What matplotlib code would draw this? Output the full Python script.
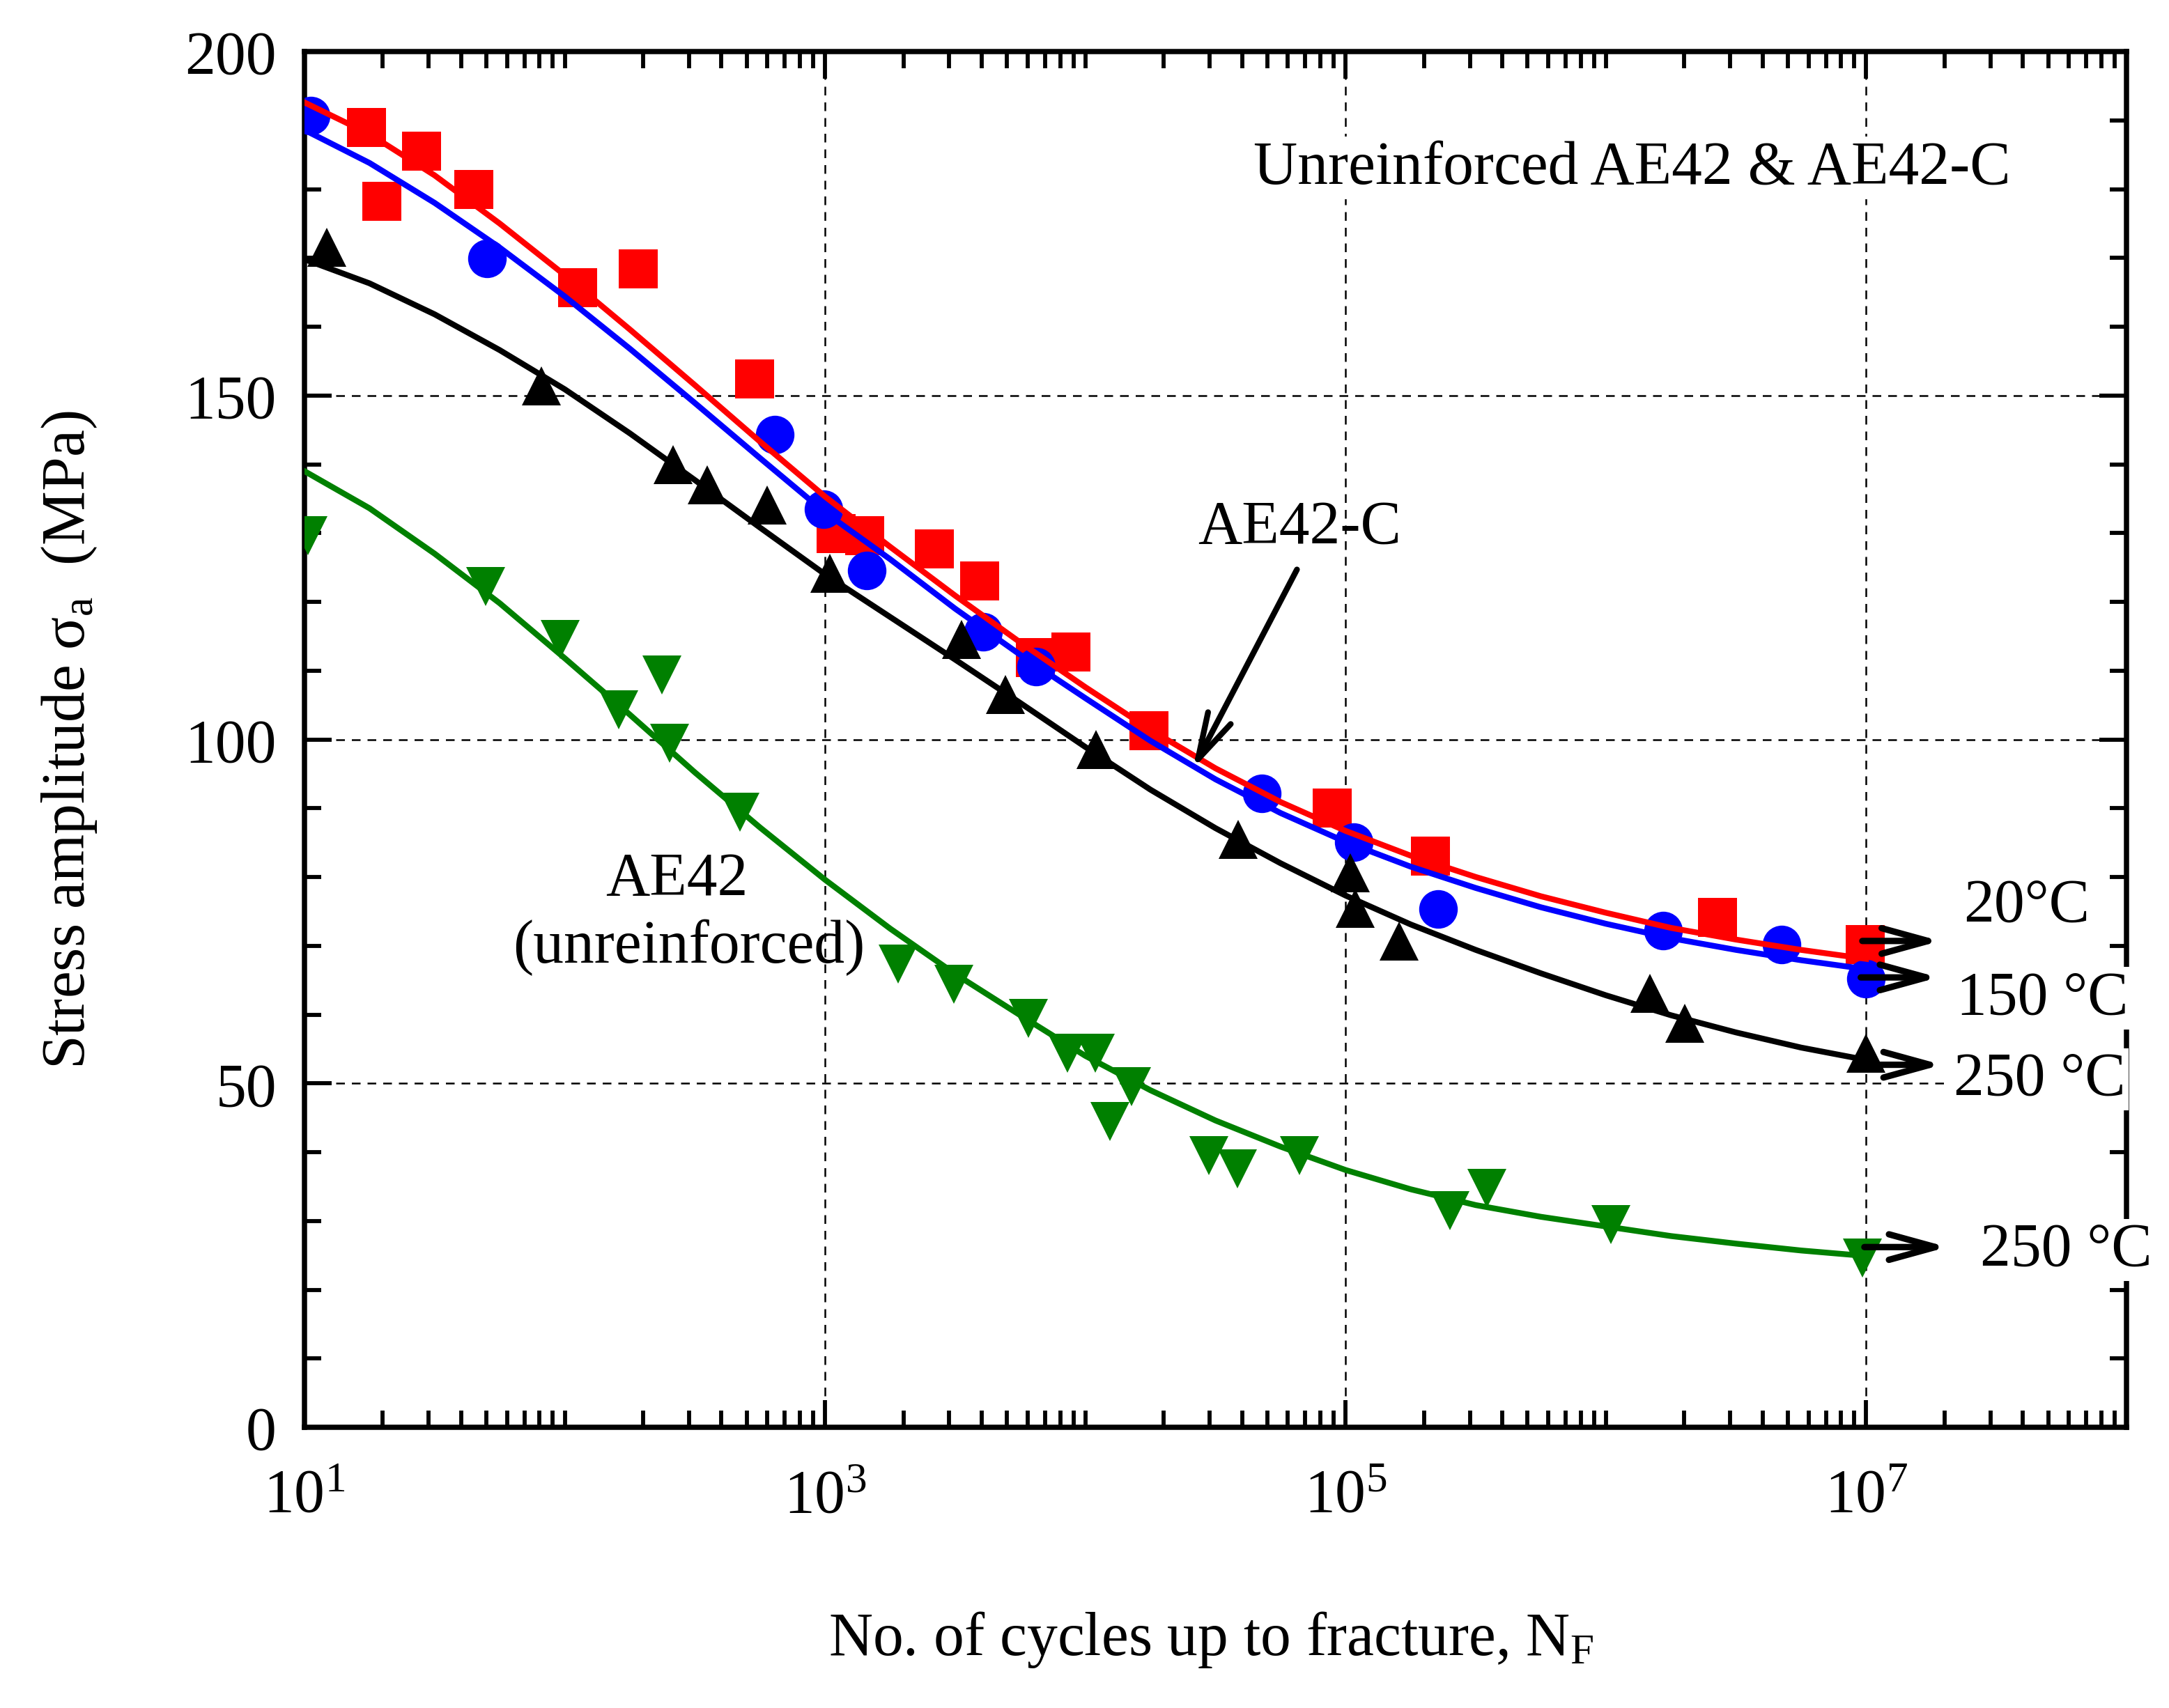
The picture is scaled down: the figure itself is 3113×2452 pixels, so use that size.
import numpy as np
import matplotlib
matplotlib.use('Agg')
import matplotlib.pyplot as plt
from matplotlib.ticker import FixedLocator, FixedFormatter, NullFormatter

plt.rcParams['font.family'] = ['Liberation Serif', 'DejaVu Serif']
plt.rcParams['mathtext.fontset'] = 'custom'
plt.rcParams['mathtext.rm'] = 'Liberation Serif'
plt.rcParams['mathtext.it'] = 'Liberation Serif:italic'
plt.rcParams['mathtext.default'] = 'regular'

# measured points, N (cycles) and stress amplitude (MPa)
n_20 = [17.3, 19.8, 28.2, 44.7, 112, 191, 535, 1104, 1416, 2630, 3917, 6427,
        8810, 17580, 88900, 212000, 2.69e6, 9.9e6]
s_20 = [189.0, 178.2, 185.5, 179.9, 165.7, 168.4, 152.4, 129.9, 129.6, 127.7,
        123.0, 111.9, 112.7, 101.3, 90.0, 83.0, 74.1, 70.2]

n_150 = [10.6, 50.4, 640, 984, 1443, 4055, 6487, 47660, 107400, 227000,
         1.656e6, 4.73e6, 1.0e7]
s_150 = [190.7, 169.9, 144.3, 133.5, 124.6, 115.6, 110.6, 92.2, 85.1, 75.3,
         72.2, 70.2, 65.2]

n_250c = [12.2, 81.1, 260, 353, 600, 1042, 3342, 4920, 10960, 38550, 104000,
          108700, 160700, 1.479e6, 2.01e6, 1.0e7]
s_250c = [171.5, 151.4, 139.9, 137.0, 134.1, 124.2, 114.5, 106.5, 98.5, 85.5,
          80.6, 75.4, 70.7, 63.1, 58.7, 54.4]

n_250u = [10.3, 49.8, 95.9, 161, 236, 253, 471, 1910, 3120, 6040, 8530, 10890,
          15030, 12420, 29900, 38400, 66500, 251800, 348000, 1.047e6, 9.68e6]
s_250u = [129.6, 122.2, 114.5, 104.3, 109.4, 99.4, 89.4, 67.3, 64.4, 59.4, 54.4,
          54.4, 49.5, 44.5, 39.5, 37.6, 39.5, 31.5, 34.7, 29.5, 24.6]

# fitted curves, every quarter decade (log10 N, MPa)
fit_lg = [1.0, 1.25, 1.5, 1.75, 2.0, 2.25, 2.5, 2.75, 3.0, 3.25, 3.5, 3.75,
          4.0, 4.25, 4.5, 4.75, 5.0, 5.25, 5.5, 5.75, 6.0, 6.25, 6.5, 6.75, 7.0]
fit_s_20 = [192.6, 188.0, 182.0, 175.0, 167.5, 159.6, 151.5, 143.3, 135.3, 128.0,
            120.9, 114.1, 107.6, 101.4, 95.8, 90.9, 86.7, 83.1, 80.0, 77.2,
            74.8, 72.6, 70.9, 69.4, 68.1]
fit_s_150 = [188.6, 183.8, 178.0, 171.5, 164.4, 156.8, 148.9, 140.9, 133.0, 126.2,
             119.0, 112.3, 106.0, 99.8, 94.2, 89.3, 85.1, 81.5, 78.4, 75.6,
             73.2, 71.1, 69.4, 67.9, 66.6]
fit_s_250c = [169.8, 166.3, 161.8, 156.6, 150.9, 144.5, 137.7, 130.8, 124.0, 117.8,
              111.6, 105.3, 98.9, 92.7, 87.1, 82.0, 77.3, 73.1, 69.4, 66.0,
              62.8, 59.9, 57.4, 55.2, 53.4]
fit_s_250u = [139.0, 133.6, 127.0, 119.8, 111.8, 103.6, 95.2, 87.2, 79.6, 72.5,
              65.9, 59.9, 54.0, 49.0, 44.6, 40.8, 37.4, 34.6, 32.3, 30.6, 29.2,
              27.8, 26.7, 25.7, 24.9]

xtick_vals = [1e1, 1e3, 1e5, 1e7]
xtick_labels = ['$10^{1}$', '$10^{3}$', '$10^{5}$', '$10^{7}$']
ytick_vals = [0, 50, 100, 150, 200]

W, H = 3113, 2453
fig = plt.figure(figsize=(W / 300, H / 300), dpi=300)
ax = fig.add_axes([437 / W, 1 - 2050 / H, (3052 - 437) / W, (2050 - 75) / H])

ms = 13.3
ax.plot(n_20, s_20, 's', color='#ff0000', ms=ms, mew=0, zorder=3)
ax.plot(n_150, s_150, 'o', color='#0000ff', ms=ms, mew=0, zorder=3.1)
ax.plot(n_250c, s_250c, '^', color='black', ms=ms, mew=0, zorder=3.2)
ax.plot(n_250u, s_250u, 'v', color='#008000', ms=ms, mew=0, zorder=3.2)

fit_n = np.power(10.0, fit_lg)
ax.plot(fit_n, fit_s_150, '-', color='#0000ff', lw=2.0, zorder=4)
ax.plot(fit_n, fit_s_20, '-', color='#ff0000', lw=2.0, zorder=4.1)
ax.plot(fit_n, fit_s_250c, '-', color='black', lw=2.0, zorder=4)
ax.plot(fit_n, fit_s_250u, '-', color='#008000', lw=2.0, zorder=4)

ax.set_xscale('log')
ax.set_xlim(1e1, 1e8)
ax.set_ylim(0, 200)

ax.xaxis.set_major_locator(FixedLocator(xtick_vals))
ax.xaxis.set_major_formatter(FixedFormatter(xtick_labels))
minor_x = [m * 10.0 ** k for k in range(1, 8) for m in range(2, 11)]
ax.xaxis.set_minor_locator(FixedLocator(minor_x))
ax.xaxis.set_minor_formatter(NullFormatter())
ax.yaxis.set_major_locator(FixedLocator(ytick_vals))
ax.yaxis.set_minor_locator(FixedLocator(np.arange(0, 201, 10)))

ax.tick_params(which='both', direction='in', top=True, right=True, width=1.4,
               labelsize=21)
ax.tick_params(which='major', length=9.4)
ax.tick_params(which='minor', length=5.8)
ax.tick_params(axis='x', which='major', pad=14)
ax.tick_params(axis='y', which='major', pad=9.6)
for sp in ax.spines.values():
    sp.set_linewidth(1.8)

ax.grid(True, which='major', color='black', lw=0.6, ls=(0, (5, 4)))

ax.set_xlabel('No. of cycles up to fracture, N$_{F}$', fontsize=21, va='top')
ax.xaxis.set_label_coords(0.4975, -0.132)
ax.set_ylabel('Stress amplitude \u03c3$_{a}$  (MPa)', fontsize=21)
ax.yaxis.set_label_coords(-0.113, 0.50)

white = dict(facecolor='white', edgecolor='none', pad=1)
ax.text(10 ** 6.099, 180.9, 'Unreinforced AE42 & AE42-C', fontsize=21,
        ha='center', va='baseline', bbox=white, zorder=5)
ax.text(10 ** 4.823, 128.7, 'AE42-C', fontsize=21, ha='center', va='baseline',
        zorder=5)
ax.text(10 ** 2.429, 77.5, 'AE42', fontsize=21, ha='center', va='baseline', zorder=5)
ax.text(10 ** 2.476, 67.6, '(unreinforced)', fontsize=21, ha='center',
        va='baseline', zorder=5)

arrow = dict(arrowstyle='->,head_length=0.4,head_width=0.11', lw=2.0,
             color='black', mutation_scale=40, shrinkA=0, shrinkB=0)
ax.annotate('', xy=(10 ** 4.413, 95.7), xytext=(10 ** 4.813, 124.7),
            arrowprops=arrow, zorder=6)

right_labels = [('20\u00b0C', 7.617, 73.7, 6.985, 7.284, 70.7),
                ('150 \u00b0C', 7.676, 60.2, 6.979, 7.277, 65.4),
                ('250 \u00b0C', 7.665, 48.4, 7.0, 7.291, 52.7),
                ('250 \u00b0C', 7.767, 23.6, 6.993, 7.312, 26.2)]
for txt, tx, ty, a0, a1, ay in right_labels:
    ax.text(10 ** tx, ty, txt, fontsize=21, ha='center', va='baseline',
            bbox=white, zorder=5, clip_on=False)
    ax.annotate('', xy=(10 ** a1, ay), xytext=(10 ** a0, ay),
                arrowprops=dict(arrow, lw=2.2), zorder=6)

fig.savefig('out.png', dpi=300)
